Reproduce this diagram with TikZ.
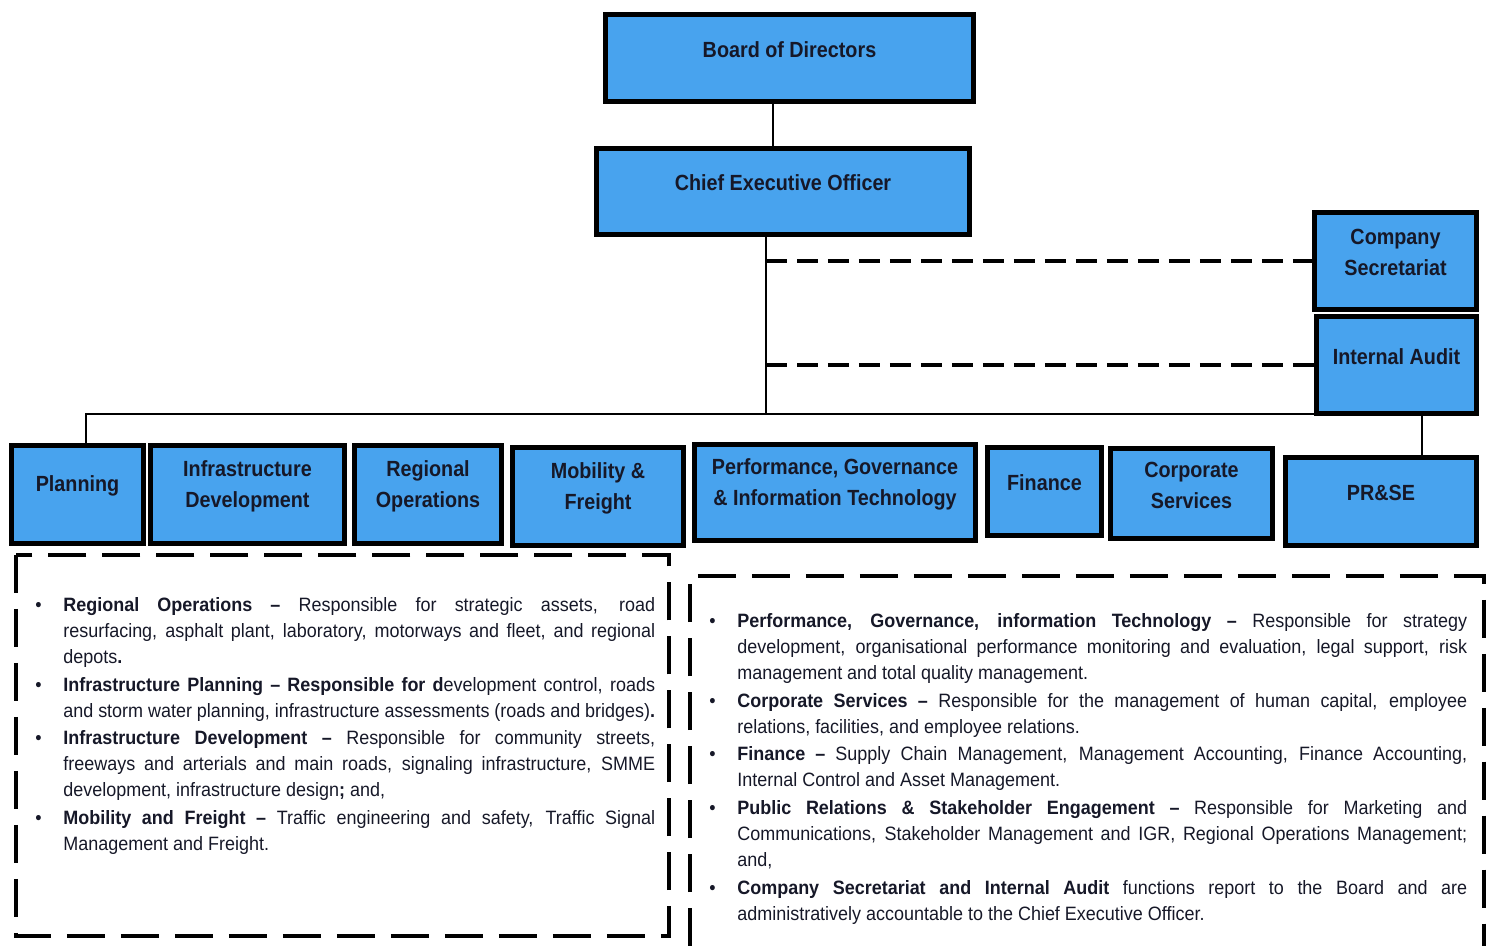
\documentclass[tikz,border=0pt]{standalone}
\usepackage{fontspec}
\setmainfont{Liberation Sans}[FakeStretch=0.9]
\newfontfamily\notefont{Liberation Sans}[FakeStretch=0.93]
\usepackage{enumitem}
\hyphenpenalty=10000
\exhyphenpenalty=10000
\definecolor{unitblue}{RGB}{72,163,238}
\definecolor{unitink}{RGB}{22,24,40}
\tikzset{
	unit/.style={draw=black, line width=3.2pt, fill=unitblue, inner sep=0pt},
	unittext/.style={align=center, text=unitink, yshift=0.17cm, font=\fontsize{12.5}{17.6}\selectfont\bfseries},
	link/.style={line width=1.6pt},
	duty/.style={line width=2.2pt, dash pattern=on 0.42cm off 0.2cm},
	dutybox/.style={line width=2.2pt, dash pattern=on 0.76cm off 0.32cm},
	notes/.style={anchor=north west, inner sep=0pt, text=unitink, align=justify, font=\notefont\fontsize{11}{14.8}\selectfont}
}
\setlist[itemize]{label=\textbullet, labelwidth=0.2cm, labelsep=0.36cm, align=left, topsep=0pt, partopsep=0pt, parsep=0pt, itemsep=1pt}

\begin{document}
\begin{tikzpicture}[x=0.02cm, y=-0.02cm]
	\useasboundingbox (0,0) rectangle (1491,946);

	\coordinate (spine) at (773,125);
	\coordinate (drop)  at (766,300);
	\coordinate (busl)  at (86,414);
	\coordinate (busr)  at (1422,414);

	\node[unit, minimum width=7.36cm, minimum height=1.74cm, label={[unittext]center:Board of Directors}]        (board)  at (789.5,58)  {};
	\node[unit, minimum width=7.46cm, minimum height=1.72cm, label={[unittext]center:Chief Executive Officer}]   (ceo)    at (783,191.5) {};
	\node[unit, minimum width=3.24cm, minimum height=1.94cm, label={[unittext]center:Company\\Secretariat}]      (cosec)  at (1395.5,261) {};
	\node[unit, minimum width=3.20cm, minimum height=1.94cm, label={[unittext]center:Internal Audit}]            (audit)  at (1396.5,365) {};

	\node[unit, minimum width=2.64cm, minimum height=1.96cm, label={[unittext]center:Planning}]                  (plan)   at (77.5,494.5)  {};
	\node[unit, minimum width=3.88cm, minimum height=1.96cm, label={[unittext]center:Infrastructure\\Development}] (infdev) at (247.5,494.5) {};
	\node[unit, minimum width=2.94cm, minimum height=1.96cm, label={[unittext]center:Regional\\Operations}]      (regops) at (428,494.5)   {};
	\node[unit, minimum width=3.42cm, minimum height=1.96cm, label={[unittext]center:Mobility \&\\Freight}]      (mobfr)  at (598,496.5)   {};
	\node[unit, minimum width=5.62cm, minimum height=1.92cm, label={[unittext]center:Performance, Governance\\\& Information Technology}] (pgit) at (835,492.5) {};
	\node[unit, minimum width=2.28cm, minimum height=1.76cm, label={[unittext]center:Finance}]                   (fin)    at (1044.5,491.5) {};
	\node[unit, minimum width=3.24cm, minimum height=1.80cm, label={[unittext]center:Corporate\\Services}]       (corp)   at (1191.5,493.5) {};
	\node[unit, minimum width=3.82cm, minimum height=1.76cm, label={[unittext]center:PR\&SE}]                    (prse)   at (1381,501.5)  {};

	\draw[link] (board.south -| spine) -- (ceo.north -| spine);
	\draw[link] (ceo.south -| drop) -- (busl -| drop);
	\draw[link] (plan.north -| busl) -- (busl) -- (busr) -- (prse.north -| busr);
	\draw[duty] (cosec.west -| drop) -- (cosec.west);
	\draw[duty] (audit.west -| drop) -- (audit.west);

	\draw[dutybox] (16,555) rectangle (669,936);
	\draw[dutybox] (690,946) -- (690,576) -- (1484,576) -- (1484,946);

	\node[notes, text width=12.4cm] (leftnotes) at (35,585) {%
		\begin{itemize}[leftmargin=0.56cm]
			\item \textbf{Regional Operations –} Responsible for strategic assets, road\linebreak resurfacing, asphalt plant, laboratory, motorways and fleet, and regional\linebreak depots\textbf{.}
			\item \textbf{Infrastructure Planning – Responsible for d}evelopment control, roads\linebreak and storm water planning, infrastructure assessments (roads and bridges)\textbf{.}
			\item \textbf{Infrastructure Development –} Responsible for community streets,\linebreak freeways and arterials and main roads, signaling infrastructure, SMME\linebreak development, infrastructure design\textbf{;} and,
			\item \textbf{Mobility and Freight –} Traffic engineering and safety, Traffic Signal\linebreak Management and Freight.
		\end{itemize}};
	\node[notes, text width=15.18cm] (rightnotes) at (708,601) {%
		\begin{itemize}[leftmargin=0.58cm]
			\item \textbf{Performance, Governance, information Technology –} Responsible for strategy\linebreak development, organisational performance monitoring and evaluation, legal support, risk\linebreak management and total quality management.
			\item \textbf{Corporate Services –} Responsible for the management of human capital, employee\linebreak relations, facilities, and employee relations.
			\item \textbf{Finance –} Supply Chain Management, Management Accounting, Finance Accounting,\linebreak Internal Control and Asset Management.
			\item \textbf{Public Relations \& Stakeholder Engagement –} Responsible for Marketing and\linebreak Communications, Stakeholder Management and IGR, Regional Operations Management;\linebreak and,
			\item \textbf{Company Secretariat and Internal Audit} functions report to the Board and are\linebreak administratively accountable to the Chief Executive Officer.
		\end{itemize}};
\end{tikzpicture}
\end{document}
